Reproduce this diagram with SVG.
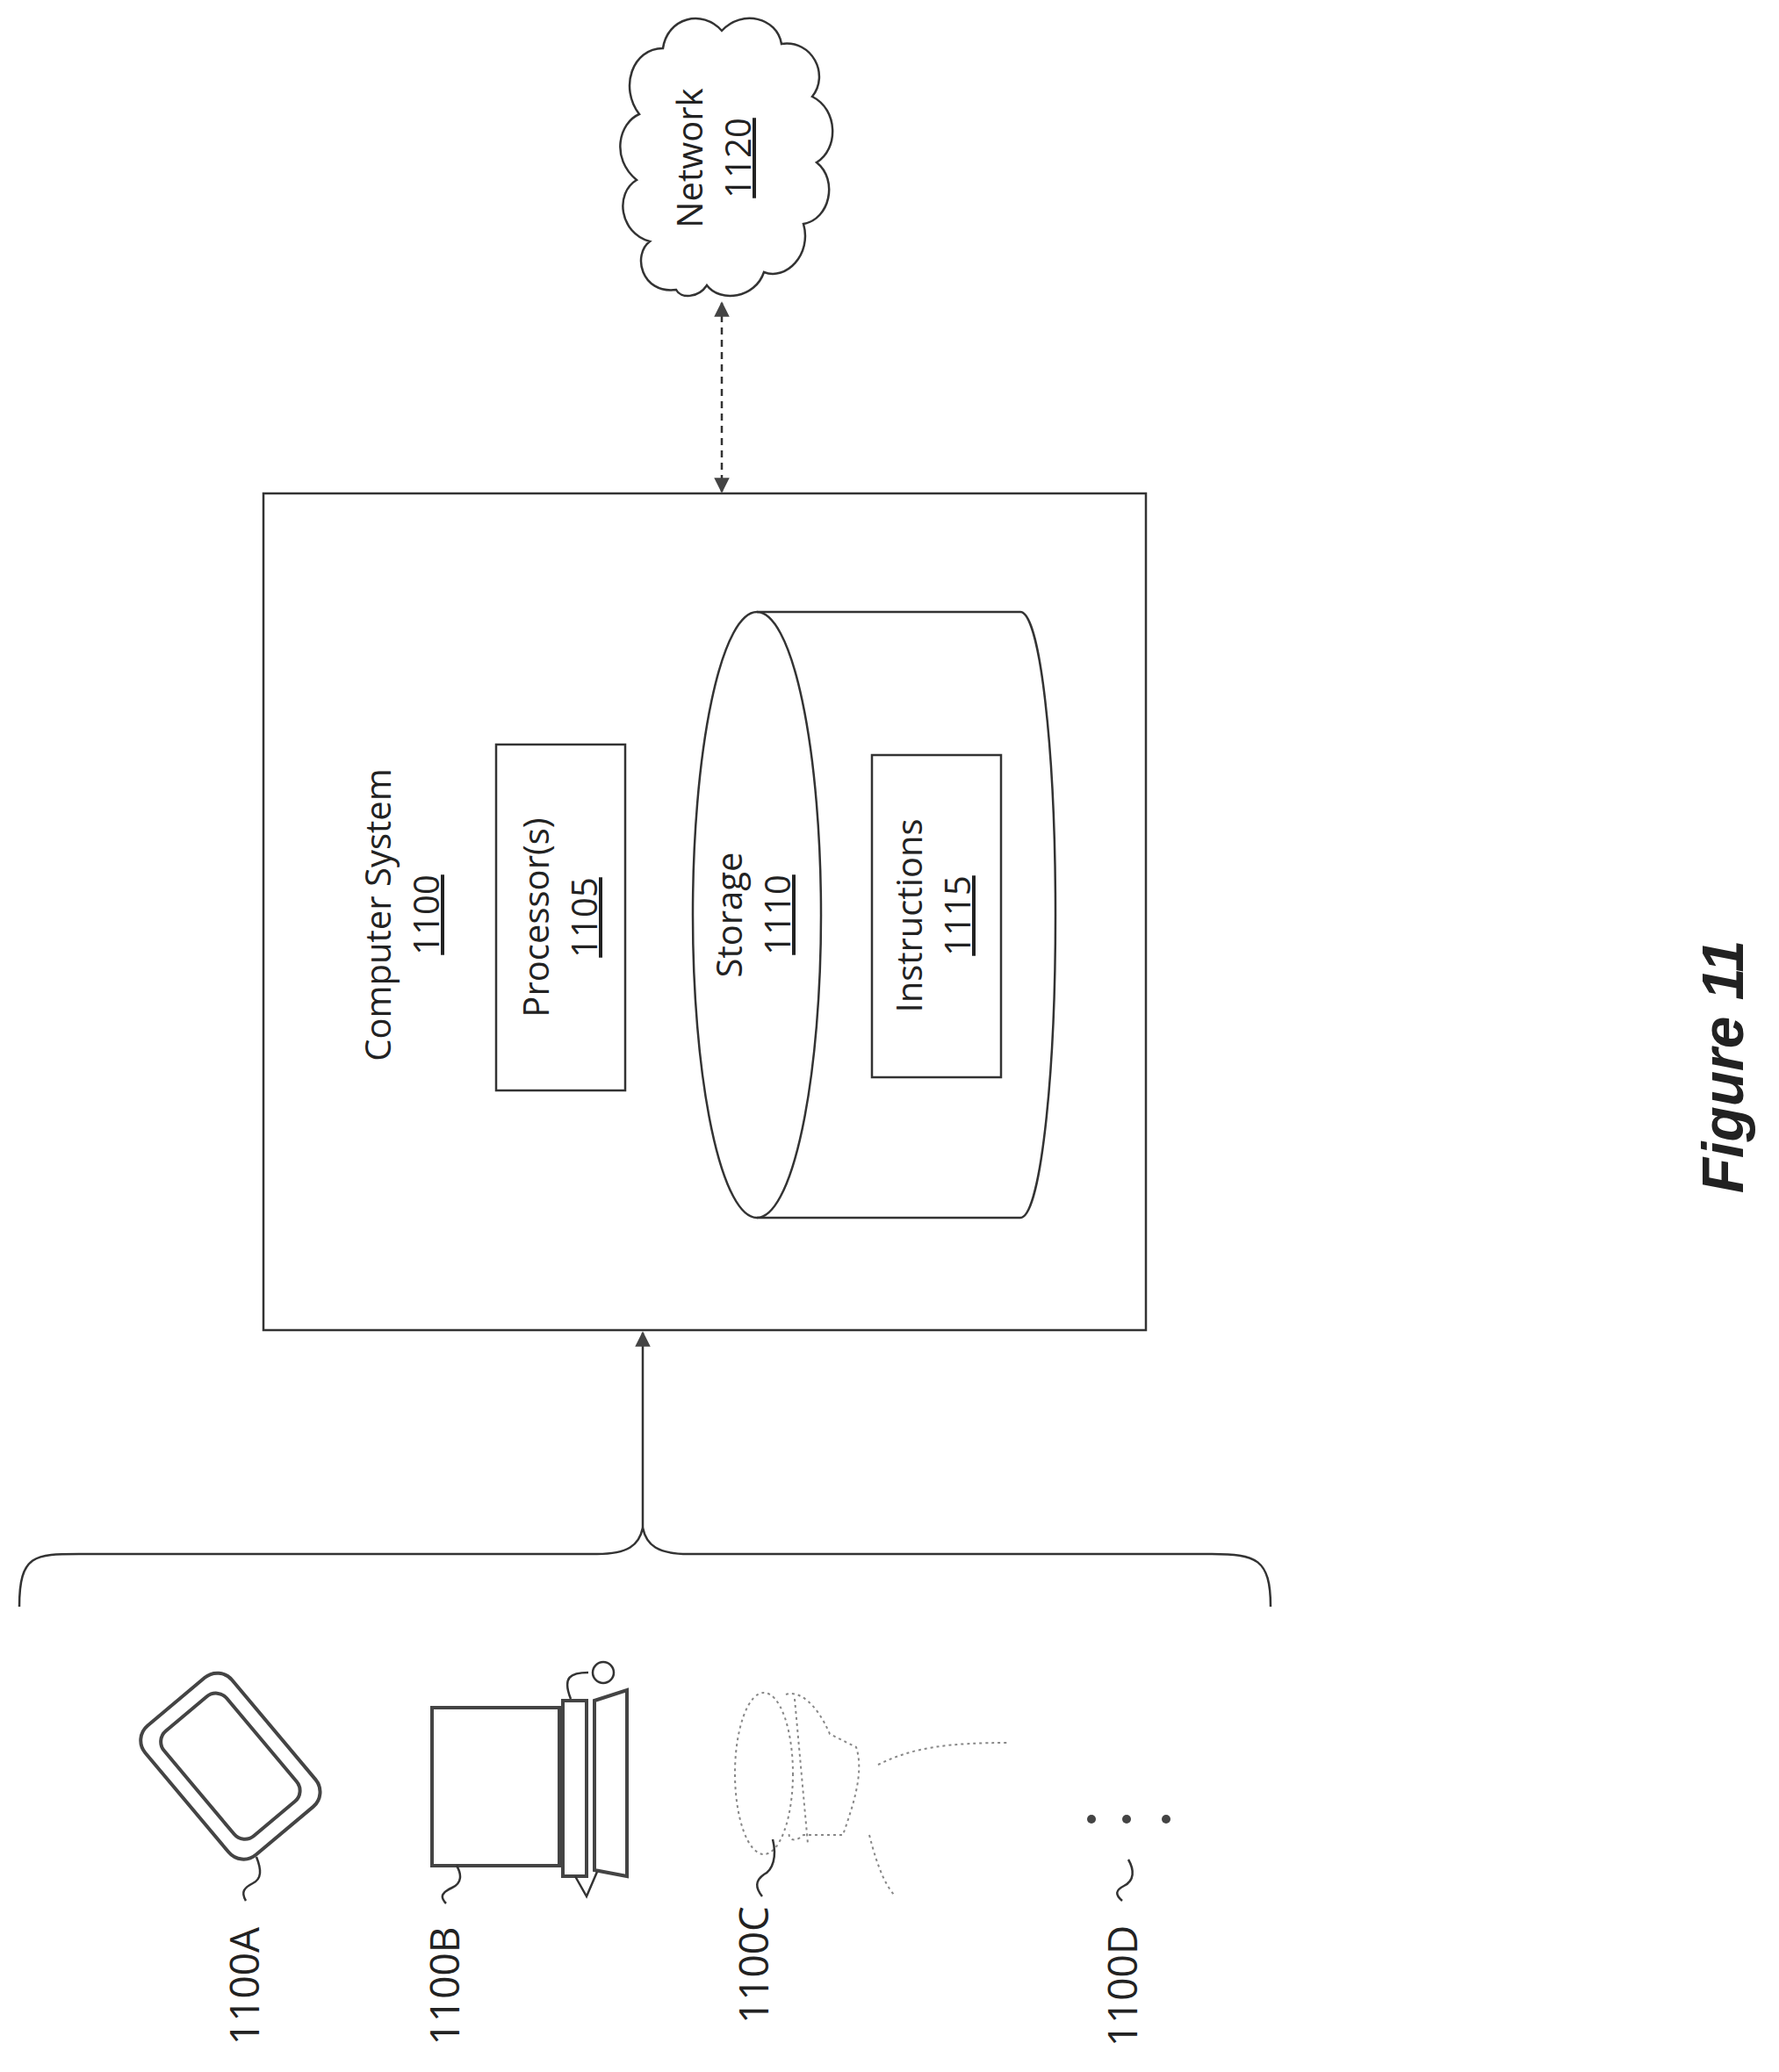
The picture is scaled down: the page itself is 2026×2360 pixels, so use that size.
<svg xmlns="http://www.w3.org/2000/svg" width="2026" height="2360" viewBox="0 0 2026 2360">
<style>
.ln{fill:none;stroke:#333;stroke-width:2.5}
.dev{fill:none;stroke:#444;stroke-width:4}
.dot{fill:none;stroke:#888;stroke-width:2;stroke-dasharray:3 4}
.t{font-family:"Open Sans","Liberation Sans",sans-serif;font-size:40px;fill:#222;text-anchor:middle}
.lb{font-family:"Open Sans","Liberation Sans",sans-serif;font-size:46px;fill:#222;text-anchor:middle}
.u{text-decoration:underline}
</style>
<defs>
<marker id="ah" viewBox="0 0 10 10" refX="9" refY="5" markerWidth="7" markerHeight="7" orient="auto-start-reverse"><path d="M0,0L10,5L0,10z" fill="#444"/></marker>
</defs>
<rect width="2026" height="2360" fill="#fff"/>
<g id="network">
<path class="ln" d="M770,330 C730,335 720,290 740,275 C705,265 700,220 725,205 C695,180 705,140 728,130 C705,100 720,55 755,55 C760,20 800,10 822,35 C845,10 885,20 890,50 C925,45 945,85 925,110 C955,125 955,170 930,185 C955,205 945,250 915,255 C925,290 895,320 870,310 C860,340 820,345 805,325 C795,340 775,340 770,330 Z"/>
<text class="t" transform="translate(800,180) rotate(-90)">Network</text>
<text class="t u" transform="translate(855,180) rotate(-90)">1120</text>
</g>
<g id="computer">
<rect class="ln" x="300" y="562" width="1005" height="953"/>
<text class="t" transform="translate(445,1042) rotate(-90)">Computer System</text>
<text class="t u" transform="translate(500,1042) rotate(-90)">1100</text>
</g>
<g id="processor">
<rect class="ln" x="565" y="848" width="147" height="394"/>
<text class="t" transform="translate(625,1045) rotate(-90)">Processor(s)</text>
<text class="t u" transform="translate(680,1045) rotate(-90)">1105</text>
</g>
<g id="storage">
<path class="ln" d="M862,697 L1162,697 A40,345 0 0 1 1162,1387 L862,1387"/>
<ellipse class="ln" cx="862" cy="1042" rx="73" ry="345"/>
<text class="t" transform="translate(845,1042) rotate(-90)">Storage</text>
<text class="t u" transform="translate(900,1042) rotate(-90)">1110</text>
</g>
<g id="instructions">
<rect class="ln" x="993" y="860" width="147" height="367"/>
<text class="t" transform="translate(1050,1043) rotate(-90)">Instructions</text>
<text class="t u" transform="translate(1105,1043) rotate(-90)">1115</text>
</g>
<g id="connectors">
<line class="ln" x1="822" y1="345" x2="822" y2="560" stroke-dasharray="8 6" marker-start="url(#ah)" marker-end="url(#ah)"/>
<line class="ln" x1="732" y1="1740" x2="732" y2="1518" marker-end="url(#ah)"/>
<path class="ln" d="M22,1830 C22,1770 40,1770 90,1770 L680,1770 C715,1770 728,1760 732,1740 C736,1760 749,1770 784,1770 L1380,1770 C1430,1770 1447,1775 1447,1830"/>
</g>
<g id="d1100A">
<rect class="dev" x="166" y="1947" width="192" height="129" rx="22" transform="rotate(50 262 2012)" stroke-width="8" stroke="#666"/>
<rect class="dev" x="184" y="1965" width="156" height="93" rx="16" transform="rotate(50 262 2012)"/>
<path class="ln" d="M292,2115 C298,2130 298,2140 288,2145 C278,2150 274,2155 280,2165"/>
<text class="lb" transform="translate(295,2262) rotate(-90)">1100A</text>
</g>
<g id="d1100B">
<rect class="dev" x="492" y="1945" width="145" height="180"/>
<rect class="dev" x="641" y="1937" width="27" height="200"/>
<path class="dev" d="M677,1937 L714,1925 L714,2137 L677,2130 Z"/>
<path class="ln" d="M655,2137 L668,2160 L680,2132 M650,1935 C640,1910 650,1905 670,1905"/>
<circle class="ln" cx="687" cy="1905" r="12"/>
<path class="ln" d="M520,2125 C526,2135 526,2145 515,2150 C504,2155 500,2160 508,2168"/>
<text class="lb" transform="translate(523,2262) rotate(-90)">1100B</text>
</g>
<g id="d1100C">
<ellipse class="dot" cx="870" cy="2020" rx="33" ry="92"/>
<path class="dot" d="M895,1930 C910,1925 930,1940 945,1975 L975,1990 C985,2020 970,2060 960,2090 L915,2090 C905,2100 895,2095 900,2085"/>
<path class="dot" d="M1000,2010 C1040,1990 1080,1985 1150,1985 M990,2090 C1000,2130 1010,2150 1020,2160"/>
<path class="dot" d="M905,1935 L920,2100"/>
<path class="ln" d="M880,2095 C885,2115 880,2130 870,2135 C860,2142 860,2150 868,2160"/>
<text class="lb" transform="translate(875,2238) rotate(-90)">1100C</text>
</g>
<g id="d1100D">
<circle cx="1243" cy="2072" r="5" fill="#444"/>
<circle cx="1283" cy="2072" r="5" fill="#444"/>
<circle cx="1328" cy="2072" r="5" fill="#444"/>
<path class="ln" d="M1285,2118 C1292,2130 1292,2142 1280,2148 C1270,2153 1270,2158 1278,2165"/>
<text class="lb" transform="translate(1295,2262) rotate(-90)">1100D</text>
</g>
<text transform="translate(1985,1215) rotate(-90)" font-family="Liberation Sans,sans-serif" font-size="66" font-weight="bold" font-style="italic" fill="#222" text-anchor="middle">Figure 11</text>
</svg>
